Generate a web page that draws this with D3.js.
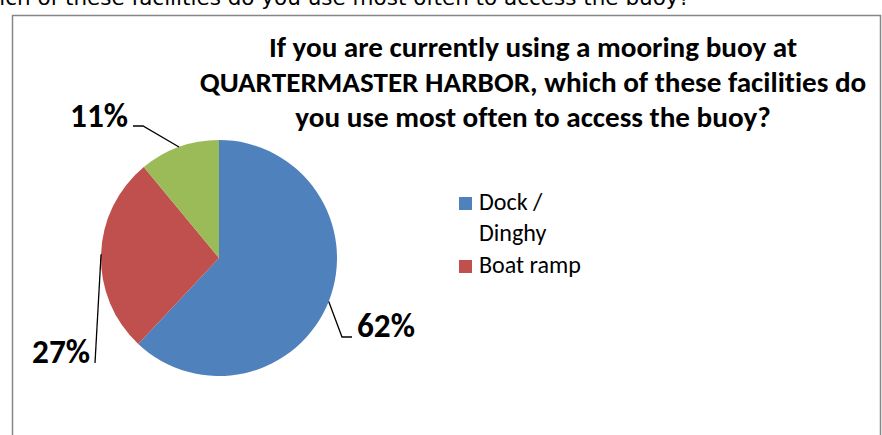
<!DOCTYPE html>
<html><head><meta charset="utf-8">
<script src="https://cdn.jsdelivr.net/npm/d3@7"></script>
<style>
html,body{margin:0;padding:0;background:#fff;overflow:hidden}
svg{display:block}
text{font-variant-ligatures:none;font-feature-settings:"liga" 0}
</style></head>
<body>
<svg id="chart" width="882" height="435"></svg>
<script>
// ---- data ----
const categories = ["Dock / Dinghy", "Boat ramp", "Other"];
const values = [62, 27, 11];
const colors = ["#4F81BD", "#C0504D", "#9BBB59"];
const legendShown = ["Dock / Dinghy", "Boat ramp"];
const titleLines = [
  "If you are currently using a mooring buoy at",
  "QUARTERMASTER HARBOR, which of these facilities do",
  "you use most often to access the buoy?"
];
const questionText = "which of these facilities do you use most often to access the buoy?";

const svg = d3.select("#chart");
const FONT = "Carlito, Lato, 'Liberation Sans', sans-serif";

// fit a text element's font size to a target width
function fitWidth(sel, target) {
  const node = sel.node();
  const fs = parseFloat(sel.attr("font-size"));
  const w = node.getComputedTextLength();
  sel.attr("font-size", fs * target / w);
  return fs * target / w;
}

// clipped question text from the document above
svg.append("text")
  .attr("x", 690).attr("y", 5)
  .attr("text-anchor", "end")
  .attr("font-family", "'DejaVu Sans', sans-serif")
  .attr("font-size", 21.5)
  .attr("fill", "#000")
  .text(questionText);

// chart border
svg.append("rect")
  .attr("x", 12.5).attr("y", 15.5)
  .attr("width", 868).attr("height", 440)
  .attr("fill", "#fff")
  .attr("stroke", "#868686").attr("stroke-width", 1.5);

// title
const tg = svg.append("g");
const probe = tg.append("text").attr("font-family", FONT).attr("font-weight", "bold")
  .attr("font-size", 22).text(titleLines[1]);
const titleSize = fitWidth(probe, 667);
probe.remove();
const titleY = [57, 92, 127];
titleLines.forEach((t, i) => {
  tg.append("text")
    .attr("x", 533).attr("y", titleY[i])
    .attr("text-anchor", "middle")
    .attr("font-family", FONT).attr("font-weight", "bold")
    .attr("font-size", titleSize).attr("fill", "#000")
    .text(t);
});

// pie
const cx = 219, cy = 258, r = 118;
const pie = d3.pie().sort(null).value(d => d)(values);
const arc = d3.arc().innerRadius(0).outerRadius(r);
const pg = svg.append("g").attr("transform", `translate(${cx},${cy})`);
pg.selectAll("path").data(pie).join("path")
  .attr("d", arc)
  .attr("fill", (d, i) => colors[i]);

// data labels with leader lines
const fmt = v => Math.round(v / d3.sum(values) * 100) + "%";
function edgePoint(d) {
  const a = (d.startAngle + d.endAngle) / 2;
  return [cx + r * Math.sin(a), cy - r * Math.cos(a)];
}
const labelLayout = [
  { x: 357, y: 337, anchor: "start", path: p => [[352, 337], [342, 337], p] },
  { x: 90,  y: 363, anchor: "end",   path: p => [[95, 363], p] },
  { x: 128, y: 127, anchor: "end",   path: p => [[133, 126], [143, 126], p] }
];
const lg = svg.append("g");
const lp = lg.append("text").attr("font-family", FONT).attr("font-weight", "bold")
  .attr("font-size", 30).text("62%");
const labelSize = fitWidth(lp, 58);
lp.remove();
pie.forEach((d, i) => {
  const L = labelLayout[i];
  const pts = L.path(edgePoint(d));
  lg.append("path")
    .attr("d", d3.line()(pts))
    .attr("fill", "none").attr("stroke", "#000").attr("stroke-width", 1.3);
  lg.append("text")
    .attr("x", L.x).attr("y", L.y)
    .attr("text-anchor", L.anchor)
    .attr("font-family", FONT).attr("font-weight", "bold")
    .attr("font-size", labelSize).attr("fill", "#000")
    .text(fmt(d.data));
});

// legend
const leg = svg.append("g");
const lprobe = leg.append("text").attr("font-family", FONT).attr("font-size", 20).text("Boat ramp");
const legSize = fitWidth(lprobe, 102);
lprobe.remove();
const legendRows = [
  { lines: ["Dock /", "Dinghy"], y: 210 },
  { lines: ["Boat ramp"], y: 273 }
];
legendShown.forEach((name, i) => {
  const row = legendRows[i];
  const ci = categories.indexOf(name);
  leg.append("rect")
    .attr("x", 459).attr("y", row.y - 13)
    .attr("width", 13).attr("height", 13)
    .attr("fill", colors[ci]);
  row.lines.forEach((ln, j) => {
    leg.append("text")
      .attr("x", 479).attr("y", row.y + j * 31)
      .attr("font-family", FONT).attr("font-size", legSize).attr("fill", "#000")
      .text(ln);
  });
});
</script>
</body></html>
